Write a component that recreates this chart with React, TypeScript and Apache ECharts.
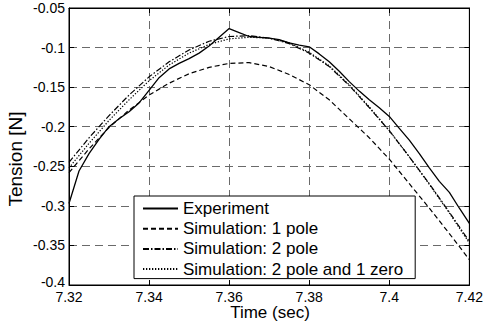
import React, { useEffect, useRef } from "react";
import * as echarts from "echarts";

const expTime = [7.32, 7.3225, 7.325, 7.3275, 7.33, 7.3325, 7.335, 7.3375, 7.34, 7.3425, 7.345, 7.3475, 7.35, 7.3525, 7.355, 7.3575, 7.36, 7.3625, 7.365, 7.3675, 7.37, 7.3725, 7.375, 7.3775, 7.38, 7.3825, 7.385, 7.3875, 7.39, 7.3925, 7.395, 7.3975, 7.4, 7.4025, 7.405, 7.4075, 7.41, 7.4125, 7.415, 7.4175, 7.42];
const experiment = [-0.297, -0.256, -0.234, -0.216, -0.2, -0.19, -0.181, -0.17, -0.154, -0.138, -0.127, -0.12, -0.114, -0.107, -0.098, -0.087, -0.076, -0.081, -0.086, -0.087, -0.088, -0.09, -0.094, -0.097, -0.099, -0.108, -0.118, -0.13, -0.143, -0.155, -0.166, -0.176, -0.187, -0.202, -0.217, -0.234, -0.252, -0.269, -0.283, -0.303, -0.322];

const simTime = [7.32, 7.325, 7.33, 7.335, 7.34, 7.345, 7.35, 7.355, 7.36, 7.365, 7.37, 7.375, 7.38, 7.385, 7.39, 7.395, 7.4, 7.405, 7.41, 7.415, 7.42];
const sim1Pole = [-0.258, -0.228, -0.201, -0.179, -0.16, -0.145, -0.133, -0.125, -0.12, -0.119, -0.124, -0.134, -0.147, -0.166, -0.19, -0.214, -0.241, -0.272, -0.303, -0.335, -0.368];
const sim2Pole = [-0.245, -0.214, -0.186, -0.16, -0.137, -0.118, -0.103, -0.092, -0.086, -0.085, -0.088, -0.095, -0.107, -0.124, -0.148, -0.176, -0.205, -0.238, -0.272, -0.308, -0.345];
const sim2Pole1Zero = [-0.252, -0.221, -0.192, -0.166, -0.142, -0.122, -0.107, -0.096, -0.089, -0.087, -0.088, -0.094, -0.106, -0.123, -0.147, -0.175, -0.205, -0.238, -0.273, -0.309, -0.347];

const seriesNames = ["Experiment", "Simulation: 1 pole", "Simulation: 2 pole", "Simulation: 2 pole and 1 zero"];
const xLabel = "Time (sec)";
const yLabel = "Tension [N]";

const FONT = "'Liberation Sans', Arial, sans-serif";

const pair = (t: number[], v: number[]) => t.map((x, i) => [x, v[i]]);
const fmt = (v: number) => String(parseFloat(v.toFixed(2)));
const fmtY = (v: number) => (v <= -0.399 ? `{lo|${fmt(v)}}` : fmt(v));

export default function App() {
  const ref = useRef<HTMLDivElement>(null);
  useEffect(() => {
    if (!ref.current) return;
    const chart = echarts.init(ref.current, null, { renderer: "svg" });
    const gridLine = { show: true, lineStyle: { color: "#6a6a6a", width: 1, type: [8, 5] as any } };
    const lineBase = { type: "line", symbol: "none", showSymbol: false, smooth: false, animation: false };
    chart.setOption({
      animation: false,
      backgroundColor: "#ffffff",
      textStyle: { fontFamily: FONT },
      grid: { left: 69, right: 14, top: 8, bottom: 41, show: true, borderColor: "#000", borderWidth: 1, backgroundColor: "#fff" },
      xAxis: [
        {
          type: "value", min: 7.32, max: 7.42, interval: 0.02,
          axisLine: { show: true, lineStyle: { color: "#000", width: 1 } },
          axisTick: { show: true, inside: true, length: 5, lineStyle: { color: "#000" } },
          axisLabel: { color: "#000", fontSize: 14, fontFamily: FONT, margin: 6, lineHeight: 12, formatter: fmt },
          splitLine: gridLine,
        },
        {
          type: "value", position: "top", min: 7.32, max: 7.42, interval: 0.02,
          axisLine: { show: true, lineStyle: { color: "#000" } },
          axisTick: { show: true, inside: true, length: 5, lineStyle: { color: "#000" } },
          axisLabel: { show: false }, splitLine: { show: false },
        },
      ],
      yAxis: [
        {
          type: "value", min: -0.4, max: -0.05, interval: 0.05,
          axisLine: { show: true, lineStyle: { color: "#000", width: 1 } },
          axisTick: { show: true, inside: true, length: 5, lineStyle: { color: "#000" } },
          axisLabel: {
            color: "#000", fontSize: 14, fontFamily: FONT, margin: 4, lineHeight: 10, formatter: fmtY,
            rich: { lo: { color: "#000", fontSize: 14, fontFamily: FONT, lineHeight: 10, padding: [0, 0, 6, 0] } },
          },
          splitLine: gridLine,
        },
        {
          type: "value", position: "right", min: -0.4, max: -0.05, interval: 0.05,
          axisLine: { show: true, lineStyle: { color: "#000" } },
          axisTick: { show: true, inside: true, length: 5, lineStyle: { color: "#000" } },
          axisLabel: { show: false }, splitLine: { show: false },
        },
      ],
      graphic: [
        {
          type: "text", x: 15, y: 159, rotation: Math.PI / 2,
          style: { text: yLabel, fill: "#000", font: `19px ${FONT}`, align: "center", verticalAlign: "middle" },
        },
        {
          type: "text", x: 270, y: 312,
          style: { text: xLabel, fill: "#000", font: `17px ${FONT}`, align: "center", verticalAlign: "middle" },
        },
      ],
      legend: {
        orient: "vertical", left: 134, top: 196,
        padding: [4, 12, 1, 8],
        backgroundColor: "#fff", borderColor: "#000", borderWidth: 1, borderRadius: 0,
        itemWidth: 35, itemHeight: 14, itemGap: 3.2,
        itemStyle: { opacity: 0 },
        textStyle: { color: "#000", fontSize: 17, fontFamily: FONT, lineHeight: 16.5 },
        data: seriesNames,
      },
      series: [
        { ...lineBase, name: seriesNames[0], data: pair(expTime, experiment), lineStyle: { color: "#000", width: 1.3, type: "solid" }, itemStyle: { color: "#000" }, z: 5 },
        { ...lineBase, name: seriesNames[1], data: pair(simTime, sim1Pole), lineStyle: { color: "#000", width: 1.2, type: [5, 3] }, itemStyle: { color: "#000" } },
        { ...lineBase, name: seriesNames[2], data: pair(simTime, sim2Pole), lineStyle: { color: "#000", width: 1.2, type: [6, 2, 1.5, 2] }, itemStyle: { color: "#000" } },
        { ...lineBase, name: seriesNames[3], data: pair(simTime, sim2Pole1Zero), lineStyle: { color: "#000", width: 1.2, type: [1.3, 1.7] }, itemStyle: { color: "#000" } },
      ],
    });
    return () => chart.dispose();
  }, []);
  return <div ref={ref} style={{ position: "fixed", left: 0, top: 0, width: 486, height: 326, background: "#fff" }} />;
}
